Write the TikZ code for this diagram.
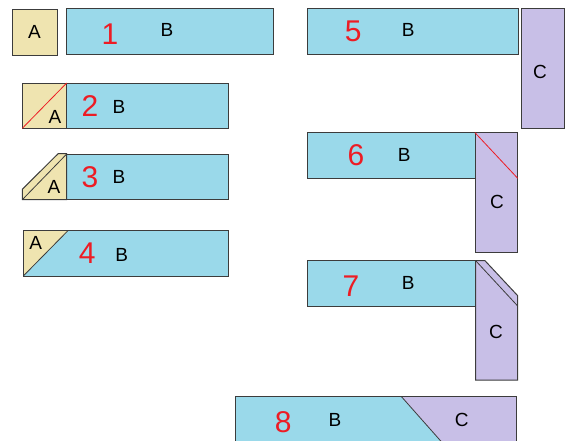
\documentclass[tikz,border=0pt]{standalone}
\usepackage{fontspec}
\setmainfont{Liberation Sans}
\definecolor{tanA}{RGB}{239,228,176}
\definecolor{blueB}{RGB}{154,217,234}
\definecolor{lilacC}{RGB}{200,191,231}
\definecolor{edgegray}{RGB}{60,60,60}
\definecolor{numred}{RGB}{237,28,36}
\tikzset{
  partA/.style={fill=tanA,draw=edgegray,line width=1pt},
  partB/.style={fill=blueB,draw=edgegray,line width=1pt},
  partC/.style={fill=lilacC,draw=edgegray,line width=1pt},
  cutline/.style={draw=numred,line width=0.8pt},
  seam/.style={draw=edgegray,line width=0.8pt},
  lbl/.style={inner sep=0pt,font=\fontsize{19}{19}\selectfont},
  num/.style={inner sep=0pt,text=numred,font=\fontsize{30}{30}\selectfont}
}
\begin{document}
\begin{tikzpicture}[x=1pt,y=-1pt]
                \useasboundingbox (0,0) rectangle (571,440);
                \clip (0,0) rectangle (571,440);
                % 1
                \draw[partA] (12,9) rectangle (57,55) node[lbl,pos=.5] (a1) {A}; %A
                \draw[partB] (66,8) rectangle (273,54); %B
                \node[num] (n1) at (110,34) {1};
                \node[lbl] (b1) at (167,30) {B};

                % 2
                \draw[partB] (66.7,83) rectangle (228.7,128.3); %B
                \draw[partA] (22.3,83) rectangle (66.7,128.3); %A
                \draw[cutline] (22.3,128.3) -- (66.7,83);
                \node[lbl] (a2) at (55,117) {A};
                \node[num] (n2) at (90,106) {2};
                \node[lbl] (b2) at (119,107) {B};

                % 3
                \draw[partB] (66.7,154) rectangle (228.7,199.7); %B
                \draw[partA] (22.3,199.7) -- (22.3,189.3) -- (58.3,153.5) -- (66.7,153.5) -- (66.7,199.7) -- cycle; %A
                \draw[seam] (22.3,199.7) -- (66.7,154);
                \node[lbl] (a3) at (54,186.7) {A};
                \node[num] (n3) at (90,177) {3};
                \node[lbl] (b3) at (119,177) {B};

                % 4
                \draw[partB] (23.3,230.3) rectangle (228.7,276); %B
                \fill[tanA] (23.8,230.8) -- (68.3,230.8) -- (23.8,275.5) -- cycle; %A
                \draw[seam] (68.3,230.3) -- (23.3,276);
                \draw[edgegray,line width=1pt] (23.3,230.3) rectangle (228.7,276);
                \node[lbl] (a4) at (35.7,243.3) {A};
                \node[num] (n4) at (87.3,253) {4};
                \node[lbl] (b4) at (121.7,255) {B};

                % 5
                \draw[partB] (307.3,8.3) rectangle (518.7,54); %B
                \draw[partC] (521,8.3) rectangle (564,128.3); %C
                \node[num] (n5) at (353.3,31.7) {5};
                \node[lbl] (b5) at (408.3,30) {B};
                \node[lbl] (c5) at (540,71.7) {C};

                % 6
                \draw[partB] (307.3,132.7) rectangle (475,178.3); %B
                \draw[partC] (475,132.7) rectangle (517.7,252.3); %C
                \draw[cutline] (475,132.7) -- (517.7,178.3);
                \node[num] (n6) at (356,155) {6};
                \node[lbl] (b6) at (404.3,155) {B};
                \node[lbl] (c6) at (497,202) {C};

                % 7
                \draw[partB] (307.7,260.7) rectangle (475.7,306.7); %B
                \draw[partC] (475.7,260.7) -- (485,260.7) -- (517.7,295.7) -- (517.7,380) -- (475.7,380) -- cycle; %C
                \draw[seam] (475.7,260.7) -- (517.7,306);
                \node[num] (n7) at (351,286) {7};
                \node[lbl] (b7) at (408.3,283.3) {B};
                \node[lbl] (c7) at (496,331.7) {C};

                % 8
                \fill[blueB] (235,396.7) -- (401.5,396.7) -- (442.5,443) -- (235,443) -- cycle; %B
                \fill[lilacC] (401.5,396.7) -- (516,396.7) -- (516,443) -- (442.5,443) -- cycle; %C
                \draw[seam] (401.5,396.7) -- (442.5,443);
                \draw[edgegray,line width=1pt] (235,445) -- (235,396.7) -- (516,396.7) -- (516,445);
                \node[num] (n8) at (283.3,421.7) {8};
                \node[lbl] (b8) at (335,420) {B};
                \node[lbl] (c8) at (461.7,420) {C};
\end{tikzpicture}
\end{document}
